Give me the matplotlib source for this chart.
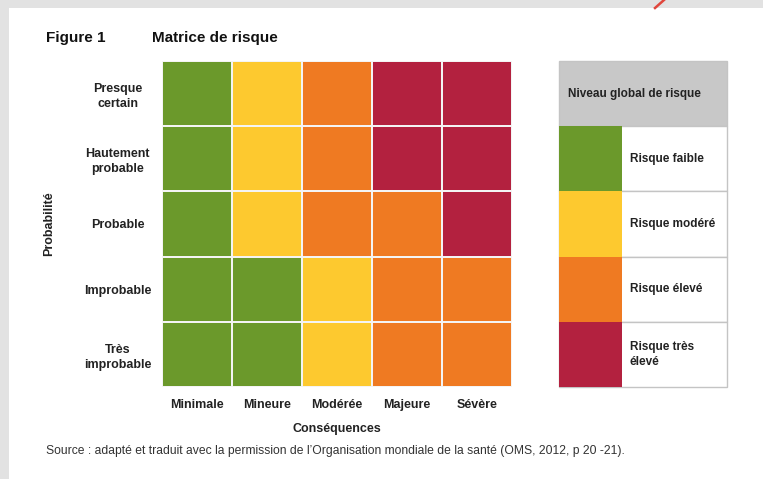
import numpy as np
import matplotlib.pyplot as plt
from matplotlib.colors import ListedColormap
from matplotlib.patches import Rectangle

#------ Donnees
probabilites = ["Presque\ncertain", "Hautement\nprobable", "Probable", "Improbable", "Très\nimprobable"]
consequences = ["Minimale", "Mineure", "Modérée", "Majeure", "Sévère"]
# niveau de risque (0 faible, 1 modere, 2 eleve, 3 tres eleve), lignes du haut vers le bas
niveaux = [[0, 1, 2, 3, 3],
           [0, 1, 2, 3, 3],
           [0, 1, 2, 2, 3],
           [0, 0, 1, 2, 2],
           [0, 0, 1, 2, 2]]
legende = ["Risque faible", "Risque modéré", "Risque élevé", "Risque très\nélevé"]
couleurs = ["#6b992b", "#fdc92f", "#ef7a22", "#b3213f"]

plt.rcParams['font.family'] = ['Liberation Sans', 'DejaVu Sans']

W, H = 763, 479
fig = plt.figure(figsize=(W/100, H/100), dpi=100)
fig.patch.set_facecolor("#e2e2e2")

# page blanche (derriere les axes)
fig.patches.append(Rectangle((9/W, 0), 1, 1 - 8/H, transform=fig.transFigure,
                             facecolor="white", edgecolor="none", zorder=-10))
fig.lines.append(plt.Line2D([655/W, 664/W], [1 - 8/H, 1.0], transform=fig.transFigure,
                            color="#e0463c", lw=1.8, zorder=-5))

def box(x0, y0, x1, y1):
    return [x0/W, 1 - y1/H, (x1 - x0)/W, (y1 - y0)/H]

#------ Matrice
ax = fig.add_axes(box(162, 61, 512, 387))
cmap = ListedColormap(couleurs)
ax.pcolormesh(np.array(niveaux), cmap=cmap, vmin=-0.5, vmax=3.5,
              edgecolors="#f4f4f4", linewidth=1.2)
ax.set_xlim(0, len(consequences))
ax.set_ylim(len(probabilites), 0)
ax.set_xticks(np.arange(len(consequences)) + 0.5)
ax.set_xticklabels(consequences, fontsize=9, fontweight="bold", color="#222222", va="baseline")
ax.set_yticks(np.arange(len(probabilites)) + 0.5)
ax.set_yticklabels(probabilites, fontsize=9, fontweight="bold", color="#222222",
                   ha="center", linespacing=1.3)
ax.tick_params(axis="x", length=0, pad=15)
ax.tick_params(axis="y", length=0, pad=32)
for s in ax.spines.values():
    s.set_visible(False)
ax.set_xlabel("Conséquences", fontsize=9, fontweight="bold", color="#222222", labelpad=9)
ax.set_ylabel("Probabilité", fontsize=9, fontweight="bold", color="#222222", labelpad=21)

#------ Legende
lg = fig.add_axes(box(559, 61, 727, 387))
n = len(legende)
lg.set_xlim(0, 168)
lg.set_ylim(n + 1, 0)
lg.barh(0.5, 168, height=1, left=0, color="#c8c8c8", edgecolor="#c4c4c4", lw=1, clip_on=False)
lg.barh(np.arange(n) + 1.5, 168, height=1, left=0, color="white", edgecolor="#c4c4c4", lw=1, clip_on=False)
lg.barh(np.arange(n) + 1.5, 63, height=1, left=0, color=couleurs, edgecolor="none")
lg.text(9, 0.5, "Niveau global de risque", fontsize=8.5, fontweight="bold",
        color="#222222", va="center")
for i, txt in enumerate(legende):
    lg.text(71, i + 1.5, txt, fontsize=8.5, fontweight="bold", color="#222222",
            va="center", linespacing=1.4)
lg.axis("off")

#------ Titres
fig.text(46/W, 1 - 38/H, "Figure 1", fontsize=11, fontweight="bold", color="#111111", va="center")
fig.text(152/W, 1 - 38/H, "Matrice de risque", fontsize=11, fontweight="bold", color="#111111", va="center")
fig.text(46/W, 1 - 451/H, "Source : adapté et traduit avec la permission de l\u2019Organisation mondiale de la santé (OMS, 2012, p 20 -21).",
         fontsize=8.7, color="#333333", va="center")

fig.savefig("out.png", dpi=100, facecolor=fig.get_facecolor())
